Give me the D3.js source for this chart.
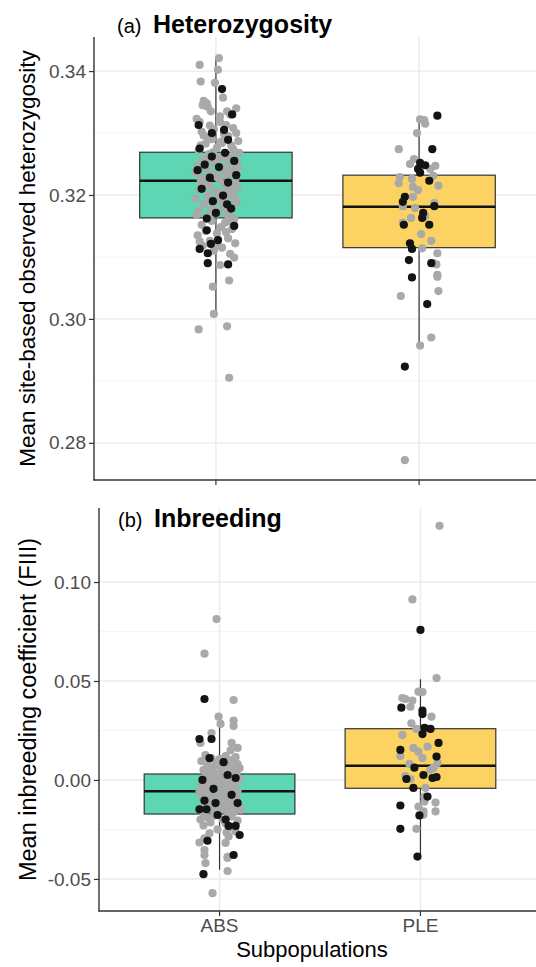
<!DOCTYPE html>
<html>
<head>
<meta charset="utf-8">
<script src="https://cdn.jsdelivr.net/npm/d3@7"></script>
<style>
  body { margin: 0; background: #fff; }
  text { font-family: "Liberation Sans", Arial, sans-serif; }
</style>
</head>
<body>
<script>
// categories and ticks
const categories = ['ABS', 'PLE'];
const hetTicks = [0.28, 0.30, 0.32, 0.34];
const hetMinor = [0.29, 0.31, 0.33];
const fisTicks = [-0.05, 0.00, 0.05, 0.10];
const fisMinor = [-0.025, 0.025, 0.075];

// box stats: [lower whisker, q1, median, q3, upper whisker]
const hetBoxes = [
  [0.3011, 0.3163, 0.3223, 0.3269, 0.3423],
  [0.2961, 0.3115, 0.3181, 0.3232, 0.3326]
];
const fisBoxes = [
  [-0.0453, -0.0172, -0.0057, 0.0030, 0.0268],
  [-0.0387, -0.0042, 0.0072, 0.0259, 0.0509]
];

// jittered points: [jitter (category units), value]
const hetAbsGrey = [
  [0.015, 0.3421], [-0.08, 0.3410], [0.01, 0.3402], [-0.075, 0.3383], [-0.005, 0.3381], [0.035, 0.3357],
  [-0.06, 0.3352], [-0.045, 0.3348], [-0.065, 0.3345], [-0.04, 0.3342], [0.10, 0.3340], [0.055, 0.3335],
  [-0.095, 0.3323], [0.07, 0.3330], [0.02, 0.3318], [-0.03, 0.3312], [0.085, 0.3308], [-0.07, 0.3302],
  [0.04, 0.3298], [0.06, 0.3295], [-0.02, 0.3290], [0.11, 0.3287], [-0.05, 0.3283], [0.075, 0.3280],
  [0.005, 0.3276], [-0.085, 0.3272], [0.09, 0.3270], [-0.035, 0.3266], [0.045, 0.3263], [0.025, 0.3260],
  [-0.065, 0.3257], [0.10, 0.3255], [-0.01, 0.3252], [0.065, 0.3250], [-0.09, 0.3247], [0.03, 0.3244],
  [-0.045, 0.3241], [0.08, 0.3238], [-0.02, 0.3235], [0.055, 0.3232], [-0.07, 0.3229], [0.015, 0.3226],
  [0.095, 0.3223], [-0.055, 0.3220], [0.04, 0.3218], [-0.03, 0.3215], [0.07, 0.3212], [-0.08, 0.3209],
  [0.0, 0.3206], [0.085, 0.3203], [-0.04, 0.3200], [0.05, 0.3197], [-0.10, 0.3194], [0.02, 0.3191],
  [0.10, 0.3188], [-0.06, 0.3185], [0.035, 0.3182], [-0.015, 0.3179], [0.075, 0.3176], [-0.085, 0.3173],
  [0.01, 0.3170], [0.06, 0.3167], [-0.045, 0.3164], [0.09, 0.3161], [-0.02, 0.3158], [0.045, 0.3155],
  [-0.07, 0.3152], [0.025, 0.3148], [0.08, 0.3145], [-0.05, 0.3142], [0.005, 0.3138], [-0.09, 0.3135],
  [0.06, 0.3130], [-0.03, 0.3126], [0.095, 0.3122], [-0.065, 0.3118], [0.03, 0.3115], [-0.01, 0.3110],
  [0.07, 0.3105], [0.09, 0.3099], [0.02, 0.3087], [0.065, 0.3062], [-0.015, 0.3052], [-0.01, 0.3008],
  [0.055, 0.2988], [-0.085, 0.2983], [0.065, 0.2905], [0.0, 0.3258], [0.11, 0.3245], [-0.10, 0.3236],
  [-0.075, 0.3224], [0.105, 0.3213], [0.015, 0.3199], [-0.035, 0.3189], [0.055, 0.3178], [-0.095, 0.3168],
  [0.075, 0.3157], [0.115, 0.3268], [0.03, 0.3284], [-0.06, 0.3296], [0.0, 0.3230], [0.045, 0.3207],
  [-0.025, 0.3335], [0.02, 0.3327], [-0.08, 0.3318], [0.05, 0.3313], [-0.01, 0.3306], [0.10, 0.3300],
  [-0.04, 0.3293], [0.025, 0.3286], [-0.075, 0.3280], [0.085, 0.3274], [-0.015, 0.3269], [0.06, 0.3261],
  [-0.05, 0.3253], [0.035, 0.3240], [-0.065, 0.3216], [0.09, 0.3195], [-0.025, 0.3172], [0.05, 0.3140],
  [-0.08, 0.3125], [0.01, 0.3119]
];
const hetAbsBlack = [
  [0.03, 0.3371], [0.08, 0.3330], [-0.02, 0.3300], [0.06, 0.3289], [-0.08, 0.3275], [0.045, 0.3268],
  [0.09, 0.3255], [-0.055, 0.3249], [0.015, 0.3245], [-0.09, 0.3240], [0.10, 0.3232], [-0.03, 0.3228],
  [0.06, 0.3220], [-0.07, 0.3210], [0.035, 0.3199], [-0.015, 0.3190], [0.075, 0.3178], [0.0, 0.3171],
  [-0.045, 0.3162], [0.09, 0.3150], [-0.045, 0.3143], [0.01, 0.3127], [-0.025, 0.3121], [-0.08, 0.3113],
  [-0.04, 0.3106], [-0.04, 0.3090], [0.06, 0.3088], [0.055, 0.3185], [0.04, 0.3305], [-0.02, 0.3262],
  [-0.085, 0.3313]
];
const hetPleGrey = [
  [-0.10, 0.3274], [-0.045, 0.3250], [-0.025, 0.3258], [0.08, 0.3247], [0.055, 0.3242], [-0.095, 0.3229],
  [0.07, 0.3231], [-0.10, 0.3219], [-0.035, 0.3226], [0.095, 0.3215], [-0.03, 0.3213], [-0.005, 0.3208],
  [-0.03, 0.3197], [0.075, 0.3187], [-0.08, 0.3182], [-0.02, 0.3179], [0.03, 0.3166], [-0.04, 0.3163],
  [-0.08, 0.3155], [0.01, 0.3137], [0.06, 0.3126], [0.015, 0.3114], [0.09, 0.3106], [0.07, 0.3090],
  [0.085, 0.3088], [0.09, 0.3071], [0.09, 0.3068], [0.095, 0.3045], [-0.09, 0.3037], [0.005, 0.2957],
  [0.06, 0.2970], [-0.07, 0.2772], [0.025, 0.3321], [0.005, 0.3322], [0.03, 0.3315], [-0.01, 0.3300]
];
const hetPleBlack = [
  [0.065, 0.3274], [0.005, 0.3252], [0.03, 0.3248], [-0.005, 0.3242], [0.005, 0.3236], [0.05, 0.3223],
  [-0.07, 0.3197], [-0.08, 0.3189], [0.075, 0.3182], [0.02, 0.3171], [0.015, 0.3163], [-0.075, 0.3152],
  [0.05, 0.3152], [-0.045, 0.3122], [-0.035, 0.3113], [-0.05, 0.3095], [0.06, 0.3090], [-0.035, 0.3067],
  [0.04, 0.3024], [-0.07, 0.2923], [0.09, 0.3328]
];

const fisAbsGrey = [
  [-0.015, 0.0813], [-0.075, 0.0638], [0.07, 0.0404], [-0.005, 0.0320], [0.005, 0.0283], [0.07, 0.0300],
  [0.07, 0.0273], [-0.04, 0.0237], [-0.095, 0.0187], [0.06, 0.0187], [0.09, 0.0162], [0.055, 0.0150],
  [-0.07, 0.0125], [0.03, 0.0120], [0.08, 0.0115], [-0.04, 0.0110], [0.0, 0.0105], [0.06, 0.0100],
  [-0.09, 0.0095], [0.02, 0.0090], [-0.02, 0.0085], [0.09, 0.0080], [-0.06, 0.0075], [0.04, 0.0070],
  [-0.03, 0.0065], [0.07, 0.0060], [0.01, 0.0055], [-0.08, 0.0050], [0.05, 0.0045], [-0.045, 0.0040],
  [0.085, 0.0035], [-0.01, 0.0030], [0.065, 0.0025], [-0.07, 0.0020], [0.025, 0.0015], [-0.035, 0.0010],
  [0.10, 0.0005], [0.0, 0.0000], [-0.055, -0.0005], [0.045, -0.0010], [-0.015, -0.0015], [0.075, -0.0020],
  [-0.09, -0.0025], [0.015, -0.0030], [0.06, -0.0035], [-0.04, -0.0040], [0.03, -0.0045], [-0.075, -0.0050],
  [0.09, -0.0055], [-0.005, -0.0060], [0.05, -0.0065], [-0.06, -0.0070], [0.02, -0.0075], [0.08, -0.0080],
  [-0.03, -0.0085], [0.04, -0.0090], [-0.085, -0.0095], [0.01, -0.0100], [0.065, -0.0105], [-0.05, -0.0110],
  [0.035, -0.0115], [-0.015, -0.0120], [0.095, -0.0125], [-0.07, -0.0130], [0.02, -0.0135], [0.055, -0.0140],
  [-0.04, -0.0145], [0.0, -0.0150], [0.075, -0.0160], [-0.08, -0.0165], [0.04, -0.0170], [-0.025, -0.0180],
  [0.06, -0.0185], [-0.06, -0.0190], [0.015, -0.0200], [0.09, -0.0205], [-0.045, -0.0215], [0.03, -0.0220],
  [-0.08, -0.0230], [0.065, -0.0240], [-0.01, -0.0250], [0.08, -0.0260], [-0.05, -0.0270], [0.045, -0.0285],
  [-0.075, -0.0295], [-0.10, -0.0316], [-0.075, -0.0354], [0.03, -0.0318], [0.04, -0.0394], [-0.07, -0.0420],
  [-0.075, -0.0379], [0.04, -0.0389], [0.04, -0.0460], [-0.035, -0.0572], [0.10, 0.0060], [-0.10, -0.0060],
  [0.105, -0.0150], [-0.095, -0.0200], [0.0, 0.0070], [0.025, -0.0100], [-0.02, 0.0000],
  [0.05, 0.0020], [-0.05, -0.0025], [0.085, -0.0095], [-0.02, -0.0160], [0.035, -0.0265], [-0.06, 0.0045]
];
const fisAbsBlack = [
  [-0.075, 0.0409], [-0.10, 0.0207], [-0.04, 0.0207], [-0.085, 0.0000], [0.04, 0.0025], [-0.075, -0.0104],
  [-0.02, -0.0117], [0.09, -0.0117], [-0.10, -0.0148], [-0.065, -0.0148], [-0.01, -0.0177], [0.045, -0.0232],
  [0.08, -0.0232], [0.10, -0.0278], [-0.06, -0.0307], [0.07, -0.0379], [-0.08, -0.0476], [0.02, 0.0090],
  [-0.03, -0.0045], [0.06, -0.0075], [0.08, 0.0010], [-0.05, 0.0110], [0.03, -0.0200]
];
const fisPleGrey = [
  [0.095, 0.1284], [-0.04, 0.0912], [0.08, 0.0515], [-0.01, 0.0446], [0.01, 0.0444], [-0.09, 0.0414],
  [-0.075, 0.0409], [-0.04, 0.0401], [-0.05, 0.0370], [0.055, 0.0320], [-0.045, 0.0286], [-0.02, 0.0258],
  [-0.09, 0.0227], [0.035, 0.0168], [-0.035, 0.0162], [-0.01, 0.0143], [-0.10, 0.0121], [0.01, 0.0111],
  [0.085, 0.0086], [-0.055, 0.0081], [0.065, 0.0061], [0.05, 0.0051], [-0.075, 0.0020], [-0.05, 0.0005],
  [0.025, -0.0040], [0.02, -0.0084], [0.02, -0.0109], [0.075, -0.0114], [-0.01, -0.0134], [0.015, -0.0159],
  [0.075, -0.0159], [0.015, -0.0176], [-0.02, -0.0247]
];
const fisPleBlack = [
  [0.0, 0.0758], [-0.095, 0.0365], [0.01, 0.0350], [0.01, 0.0333], [0.02, 0.0263], [0.05, 0.0258],
  [0.01, 0.0232], [0.09, 0.0187], [-0.10, 0.0152], [0.08, 0.0118], [-0.03, 0.0062], [0.015, 0.0025],
  [0.08, 0.0015], [-0.07, 0.0005], [0.06, 0.0010], [-0.035, -0.0040], [0.035, -0.0084], [-0.10, -0.0129],
  [-0.005, -0.0179], [-0.10, -0.0247], [-0.015, -0.0387]
];

const fills = ['#5ed5b3', '#fcd262'];

const W = 536, H = 967;
const svg = d3.select('body').append('svg').attr('width', W).attr('height', H);

const drawPanel = (p) => {
  // discrete x: categories at integer positions, expanded 0.6 units each side
  const x = d3.scaleLinear().domain([0.4, categories.length + 0.6]).range(p.xRange);
  const unit = x(2) - x(1);
  const cx = (c) => x(categories.indexOf(c) + 1);
  const y = d3.scaleLinear().domain(p.yDomain).range(p.yRange);
  const g = svg.append('g');

  // grid
  g.selectAll('.minor').data(p.minor).join('line')
    .attr('x1', p.xRange[0]).attr('x2', W)
    .attr('y1', (d) => y(d)).attr('y2', (d) => y(d))
    .attr('stroke', '#f2f2f2').attr('stroke-width', 0.8);
  g.selectAll('.major').data(p.ticks).join('line')
    .attr('x1', p.xRange[0]).attr('x2', W)
    .attr('y1', (d) => y(d)).attr('y2', (d) => y(d))
    .attr('stroke', '#ebebeb').attr('stroke-width', 1.4);
  g.selectAll('.vgrid').data(categories).join('line')
    .attr('x1', (d) => cx(d)).attr('x2', (d) => cx(d))
    .attr('y1', p.yRange[1]).attr('y2', p.yRange[0])
    .attr('stroke', '#ebebeb').attr('stroke-width', 1.4);

  // boxes
  const bw = unit * 0.75;
  p.boxes.forEach((b, i) => {
    const c = cx(categories[i]);
    g.append('line').attr('x1', c).attr('x2', c).attr('y1', y(b[0])).attr('y2', y(b[1]))
      .attr('stroke', '#333').attr('stroke-width', 1.2);
    g.append('line').attr('x1', c).attr('x2', c).attr('y1', y(b[3])).attr('y2', y(b[4]))
      .attr('stroke', '#333').attr('stroke-width', 1.2);
    g.append('rect').attr('x', c - bw / 2).attr('width', bw)
      .attr('y', y(b[3])).attr('height', y(b[1]) - y(b[3]))
      .attr('fill', fills[i]).attr('stroke', '#333').attr('stroke-width', 1.2);
    g.append('line').attr('x1', c - bw / 2).attr('x2', c + bw / 2).attr('y1', y(b[2])).attr('y2', y(b[2]))
      .attr('stroke', '#111').attr('stroke-width', 2.4);
  });

  // points
  p.points.forEach(([cat, pts, col]) => {
    g.append('g').selectAll('circle').data(pts).join('circle')
      .attr('cx', (d) => cx(cat) + d[0] * unit)
      .attr('cy', (d) => y(d[1]))
      .attr('r', 4.1)
      .attr('fill', col);
  });

  // axes
  const ya = d3.axisLeft(y).tickValues(p.ticks).tickSize(5).tickPadding(3);
  const yg = g.append('g').attr('transform', `translate(${p.xRange[0]},0)`).call(ya);
  yg.select('.domain').remove();
  yg.selectAll('.tick line').attr('stroke', '#333').attr('stroke-width', 1.2);
  yg.selectAll('.tick text').attr('fill', '#4d4d4d').style('font-size', '19px')
    .text((d) => d3.format('.2f')(d).replace('−', '-'));

  g.selectAll('.xt').data(categories).join('line')
    .attr('x1', (d) => cx(d)).attr('x2', (d) => cx(d))
    .attr('y1', p.yRange[0]).attr('y2', p.yRange[0] + 5)
    .attr('stroke', '#333').attr('stroke-width', 1.2);
  if (p.xLabels) {
    g.selectAll('.xl').data(categories).join('text')
      .attr('x', (d) => cx(d)).attr('y', p.yRange[0] + 21)
      .attr('text-anchor', 'middle').attr('fill', '#4d4d4d').style('font-size', '19px')
      .text((d) => d);
  }

  g.append('line').attr('x1', p.xRange[0]).attr('x2', p.xRange[0])
    .attr('y1', p.yRange[1]).attr('y2', p.yRange[0] + 0.6)
    .attr('stroke', '#333').attr('stroke-width', 1.4);
  g.append('line').attr('x1', p.xRange[0] - 0.6).attr('x2', W)
    .attr('y1', p.yRange[0]).attr('y2', p.yRange[0])
    .attr('stroke', '#333').attr('stroke-width', 1.4);

  // titles
  const midY = (p.yRange[0] + p.yRange[1]) / 2;
  g.append('text').attr('transform', `translate(${p.titleX},${midY}) rotate(-90)`)
    .attr('text-anchor', 'middle').attr('dominant-baseline', 'central')
    .style('font-size', p.titleSize + 'px').attr('fill', '#000')
    .text(p.yTitle);

  g.append('text').attr('x', p.labX).attr('y', p.labY).attr('fill', '#000')
    .style('font-size', '20px').text(p.tag);
  g.append('text').attr('x', p.labX + 36).attr('y', p.labY).attr('fill', '#000')
    .style('font-size', '25px').style('font-weight', 'bold').text(p.label);
};

drawPanel({
  xRange: [94, 541], yDomain: [0.274, 0.3455], yRange: [480, 37],
  ticks: hetTicks, minor: hetMinor, boxes: hetBoxes,
  points: [['ABS', hetAbsGrey, '#a9a9a9'], ['ABS', hetAbsBlack, '#141414'],
    ['PLE', hetPleGrey, '#a9a9a9'], ['PLE', hetPleBlack, '#141414']],
  yTitle: 'Mean site-based observed heterozygosity', titleX: 27, titleSize: 22.5,
  tag: '(a)', label: 'Heterozygosity', labX: 117, labY: 33, xLabels: false
});

drawPanel({
  xRange: [99, 541], yDomain: [-0.0662, 0.1374], yRange: [911, 508],
  ticks: fisTicks, minor: fisMinor, boxes: fisBoxes,
  points: [['ABS', fisAbsGrey, '#a9a9a9'], ['ABS', fisAbsBlack, '#141414'],
    ['PLE', fisPleGrey, '#a9a9a9'], ['PLE', fisPleBlack, '#141414']],
  yTitle: 'Mean inbreeding coefficient (FIII)', titleX: 28, titleSize: 23.5,
  tag: '(b)', label: 'Inbreeding', labX: 118, labY: 527, xLabels: true
});

svg.append('text').attr('x', 312).attr('y', 957).attr('text-anchor', 'middle')
  .style('font-size', '22px').attr('fill', '#000').text('Subpopulations');
</script>
</body>
</html>
